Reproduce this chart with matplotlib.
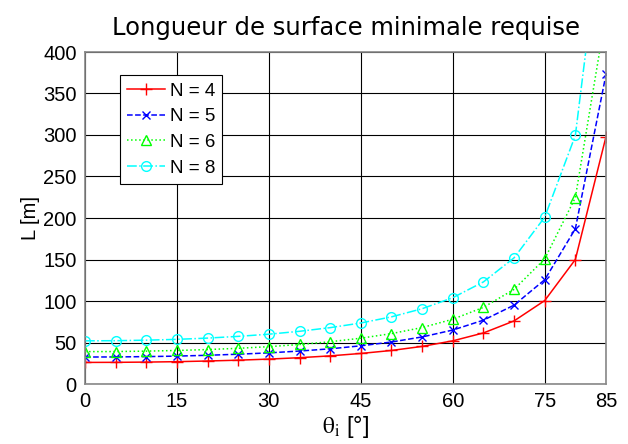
import matplotlib
matplotlib.use("Agg")
import matplotlib.pyplot as plt

# angle of incidence (deg)
theta = [0, 5, 10, 15, 20, 25, 30, 35, 40, 45, 50, 55, 60, 65, 70, 75, 80, 85]
# minimal surface length L [m]
L4 = [26, 26.1, 26.4, 26.9, 27.7, 28.7, 30.0, 31.7, 33.9, 36.8, 40.4, 45.3, 52, 61.5, 76, 100.5, 150, 298]
L5 = [32.5, 32.6, 33.0, 33.6, 34.6, 35.9, 37.5, 39.7, 42.4, 46.0, 50.6, 56.7, 65, 76.9, 95, 125.6, 187, 373]
L6 = [39, 39.1, 39.6, 40.4, 41.5, 43.0, 45.0, 47.6, 50.9, 55.2, 60.7, 68.0, 78, 92.3, 114, 150.7, 224.6, 447]
L8 = [52, 52.2, 52.8, 53.8, 55.3, 57.4, 60.0, 63.5, 67.9, 73.5, 80.9, 90.7, 104, 123, 152, 201, 299.5, 597]

plt.rcParams["font.family"] = ["Liberation Sans", "DejaVu Sans"]
plt.rcParams["mathtext.fontset"] = "stix"

fig = plt.figure(figsize=(6.28, 4.44), dpi=100)
ax = fig.add_axes([85 / 628, 1 - 384 / 444, (606 - 85) / 628, (384 - 52) / 444])

ax.plot(theta, L4, color="red", linestyle="-", marker="+", markersize=9, linewidth=1.1, label="N = 4")
ax.plot(theta, L5, color="blue", linestyle="--", marker="x", markersize=6, linewidth=1.1, label="N = 5")
ax.plot(theta, L6, color="#00ff00", linestyle=":", marker="^", markersize=7, markerfacecolor="none",
        linewidth=1.1, label="N = 6")
ax.plot(theta, L8, color="cyan", linestyle="-.", marker="o", markersize=7, markerfacecolor="none",
        linewidth=1.1, label="N = 8")

ax.set_xlim(0, 85)
ax.set_ylim(0, 400)
ax.set_xticks([0, 15, 30, 45, 60, 75, 85])
ax.set_yticks(range(0, 401, 50))
ax.grid(True, color="black", linewidth=0.8)
ax.tick_params(direction="in", labelsize=14.5, length=0, pad=6)
for s in ax.spines.values():
    s.set_color("#888888")
    s.set_linewidth(1.2)

ax.set_xlabel(r"$\mathrm{\theta_i}$ [°]", fontsize=17, labelpad=2)
ax.set_ylabel("L [m]", fontsize=14.5, labelpad=2)
ax.set_title("Longueur de surface minimale requise", fontsize=17.5, family="DejaVu Sans", pad=12)

leg = ax.legend(loc="upper left", bbox_to_anchor=(0.067, 0.93), fontsize=13.5, frameon=True, fancybox=False,
                edgecolor="black", framealpha=1, handlelength=2.0, labelspacing=0.45, borderpad=0.4,
                handletextpad=0.25, borderaxespad=0)
leg.get_frame().set_linewidth(0.8)

fig.savefig("out.png", dpi=100)
